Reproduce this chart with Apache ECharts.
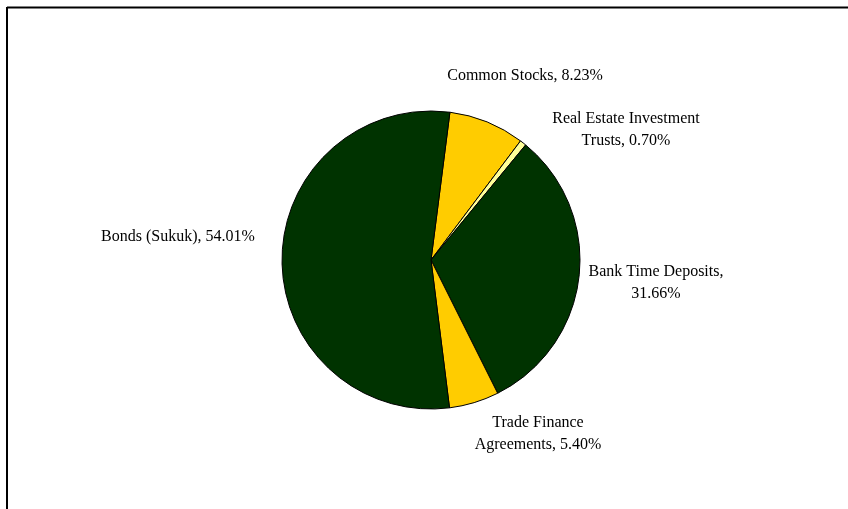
<!DOCTYPE html>
<html>
<head>
<meta charset="utf-8">
<script src="https://cdn.jsdelivr.net/npm/echarts@6/dist/echarts.min.js"></script>
<style>
  html, body { margin: 0; padding: 0; background: #fff; }
  #chart { width: 848px; height: 509px; }
</style>
</head>
<body>
<div id="chart"></div>
<script>
// Portfolio allocation by asset class (percent of total)
const categories = [
  'Common Stocks',
  'Real Estate Investment Trusts',
  'Bank Time Deposits',
  'Trade Finance Agreements',
  'Bonds (Sukuk)'
];
const shares = [8.23, 0.70, 31.66, 5.40, 54.01];
// Label text as printed, with the line breaks used on the chart
const labelTexts = [
  'Common Stocks, 8.23%',
  'Real Estate Investment\nTrusts, 0.70%',
  'Bank Time Deposits,\n31.66%',
  'Trade Finance\nAgreements, 5.40%',
  'Bonds (Sukuk), 54.01%'
];
const sliceColors = ['#FFCC00', '#FFFF99', '#003300', '#FFCC00', '#003300'];

// Where each label's centre sits on the canvas
const labelSpots = [
  [525, 76], [626, 130], [656, 283], [538, 434], [178, 237]
];

const chart = echarts.init(document.getElementById('chart'));
chart.setOption({
  animation: false,
  backgroundColor: '#ffffff',
  graphic: [
    { type: 'line', shape: { x1: 7, y1: 7.5, x2: 848, y2: 7.5 }, style: { stroke: '#000', lineWidth: 2 } },
    { type: 'line', shape: { x1: 7, y1: 7, x2: 7, y2: 509 }, style: { stroke: '#000', lineWidth: 2 } }
  ],
  series: [{
    type: 'pie',
    center: [431, 260],
    radius: 149,
    startAngle: 82.7,
    clockwise: true,
    avoidLabelOverlap: false,
    data: categories.map((name, i) => ({
      name: name,
      value: shares[i],
      itemStyle: { color: sliceColors[i] }
    })),
    itemStyle: { borderColor: '#000', borderWidth: 1 },
    label: {
      show: true,
      position: 'outside',
      formatter: p => labelTexts[p.dataIndex],
      fontFamily: '"Liberation Serif", "DejaVu Serif", serif',
      fontSize: 16,
      lineHeight: 22,
      color: '#000',
      align: 'center'
    },
    labelLine: { show: false },
    labelLayout: function (params) {
      const s = labelSpots[params.dataIndex];
      return { x: s[0], y: s[1], align: 'center', verticalAlign: 'middle' };
    },
    emphasis: { disabled: true }
  }]
});
</script>
</body>
</html>
